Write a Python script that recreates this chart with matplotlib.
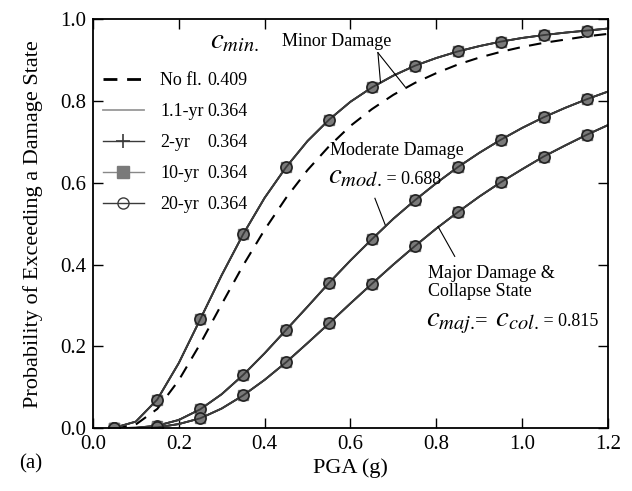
import matplotlib
matplotlib.use("Agg")
import matplotlib.pyplot as plt
from matplotlib.lines import Line2D

plt.rcParams["font.family"] = ["Liberation Serif", "DejaVu Serif"]
plt.rcParams["mathtext.fontset"] = "stix"

# PGA (g) 값
pga = [0.05, 0.10, 0.15, 0.20, 0.25, 0.30, 0.35, 0.40, 0.45, 0.50, 0.55, 0.60,
       0.65, 0.70, 0.75, 0.80, 0.85, 0.90, 0.95, 1.00, 1.05, 1.10, 1.15, 1.20]

# 손상 상태별 초과 확률
minor_nofl = [0.000, 0.009, 0.047, 0.117, 0.206, 0.303, 0.398, 0.485, 0.563, 0.631, 0.689, 0.739,
              0.780, 0.815, 0.844, 0.868, 0.889, 0.906, 0.920, 0.932, 0.942, 0.950, 0.958, 0.964]
minor = [0.001, 0.016, 0.070, 0.159, 0.266, 0.374, 0.474, 0.563, 0.638, 0.702, 0.754, 0.798,
         0.833, 0.862, 0.886, 0.905, 0.921, 0.934, 0.945, 0.954, 0.961, 0.967, 0.972, 0.977]
moderate = [0.000, 0.001, 0.006, 0.020, 0.046, 0.083, 0.130, 0.183, 0.240, 0.297, 0.355, 0.410,
            0.462, 0.512, 0.557, 0.599, 0.638, 0.673, 0.705, 0.734, 0.760, 0.783, 0.804, 0.823]
major = [0.000, 0.000, 0.002, 0.010, 0.024, 0.048, 0.080, 0.118, 0.161, 0.208, 0.256, 0.305,
         0.353, 0.400, 0.445, 0.488, 0.528, 0.566, 0.601, 0.633, 0.664, 0.691, 0.717, 0.741]

legend_names = ["No fl.", "1.1-yr", "2-yr", "10-yr", "20-yr"]
legend_cmin = ["0.409", "0.364", "0.364", "0.364", "0.364"]

line_col = "#3a3a3a"
fill_col = "#7a7a7a"

fig = plt.figure(figsize=(6.32, 4.91), dpi=100)
ax = fig.add_axes([0.147, 0.128, 0.815, 0.833])

# No fl. (점선)
ax.plot(pga, minor_nofl, color="black", lw=1.5, dashes=(6, 4.5))

# 1.1-yr, 2-yr, 10-yr, 20-yr 곡선 (서로 겹침)
for curve in [minor, moderate, major]:
    ax.plot(pga, curve, color="#999999", lw=1.0)
    ax.plot(pga, curve, color=line_col, lw=1.3, marker="+", ms=8, mew=1.0,
            markevery=(0, 2))
    ax.plot(pga, curve, color=line_col, lw=1.3, marker="s", ms=7.5, mfc=fill_col,
            mec=fill_col, markevery=(0, 2))
    ax.plot(pga, curve, color=line_col, lw=1.3, marker="o", ms=8, mfc="none",
            mec="#222222", mew=1.2, markevery=(0, 2))

ax.set_xlim(0.0, 1.2)
ax.set_ylim(0.0, 1.0)
ax.set_xticks([0.0, 0.2, 0.4, 0.6, 0.8, 1.0, 1.2])
ax.set_yticks([0.0, 0.2, 0.4, 0.6, 0.8, 1.0])
ax.set_xticklabels(["0.0", "0.2", "0.4", "0.6", "0.8", "1.0", "1.2"])
ax.set_yticklabels(["0.0", "0.2", "0.4", "0.6", "0.8", "1.0"])
ax.tick_params(direction="in", length=7, width=1.0, labelsize=15, top=True, right=True,
               pad=5)
for s in ax.spines.values():
    s.set_linewidth(1.3)
ax.set_xlabel("PGA (g)", fontsize=16, labelpad=3)
ax.set_ylabel("Probability of Exceeding a Damage State", fontsize=16, labelpad=12)

# 범례
handles = [
    Line2D([], [], color="black", lw=2.0, dashes=(5, 3.5)),
    Line2D([], [], color="#999999", lw=1.3),
    Line2D([], [], color=line_col, lw=1.0, marker="+", ms=10, mew=1.2),
    Line2D([], [], color="#888888", lw=1.0, marker="s", ms=8, mfc=fill_col, mec=fill_col),
    Line2D([], [], color=line_col, lw=1.0, marker="o", ms=8, mfc="none", mec=line_col),
]
leg1 = ax.legend(handles, legend_names, loc="upper left", bbox_to_anchor=(0.019, 0.870),
                 frameon=False, fontsize=13, handlelength=2.3, handletextpad=0.9,
                 labelspacing=0.77, borderpad=0, borderaxespad=0)
ax.add_artist(leg1)
blank = [Line2D([], [], ls="none") for _ in legend_cmin]
ax.legend(blank, legend_cmin, loc="upper left", bbox_to_anchor=(0.222, 0.870),
          frameon=False, fontsize=13, handlelength=0, handletextpad=0,
          labelspacing=0.77, borderpad=0, borderaxespad=0)
ax.text(0.273, 0.93, r"$c_{min.}$", fontsize=21, va="baseline", ha="left")

# 주석
ax.text(0.44, 0.945, "Minor Damage", fontsize=13, va="center")
ax.plot([0.664, 0.670], [0.918, 0.845], color="black", lw=0.8)
ax.plot([0.664, 0.727], [0.918, 0.835], color="black", lw=0.8)

ax.text(0.552, 0.678, "Moderate Damage", fontsize=13, va="center")
t = ax.text(0.548, 0.598, r"$c_{mod.}$", fontsize=21, va="baseline")
ax.annotate(" = 0.688", xy=(1, 0.598), xycoords=(t, "data"), fontsize=13, va="baseline")
ax.plot([0.657, 0.681], [0.562, 0.497], color="black", lw=0.8)

ax.text(0.780, 0.378, "Major Damage &", fontsize=13, va="center")
ax.text(0.780, 0.333, "Collapse State", fontsize=13, va="center")
t1 = ax.text(0.776, 0.250, r"$c_{maj.}$", fontsize=21, va="baseline")
t2 = ax.annotate("=", xy=(1, 0.250), xycoords=(t1, "data"), fontsize=16, va="baseline")
t3 = ax.annotate(r" $c_{col.}$", xy=(1, 0.250), xycoords=(t2, "data"), fontsize=21,
                 va="baseline")
ax.annotate(" = 0.815", xy=(1, 0.250), xycoords=(t3, "data"), fontsize=13, va="baseline")
ax.plot([0.843, 0.804], [0.420, 0.493], color="black", lw=0.8)

fig.text(0.030, 0.045, "(a)", fontsize=15)

fig.savefig("out.png", dpi=100)
